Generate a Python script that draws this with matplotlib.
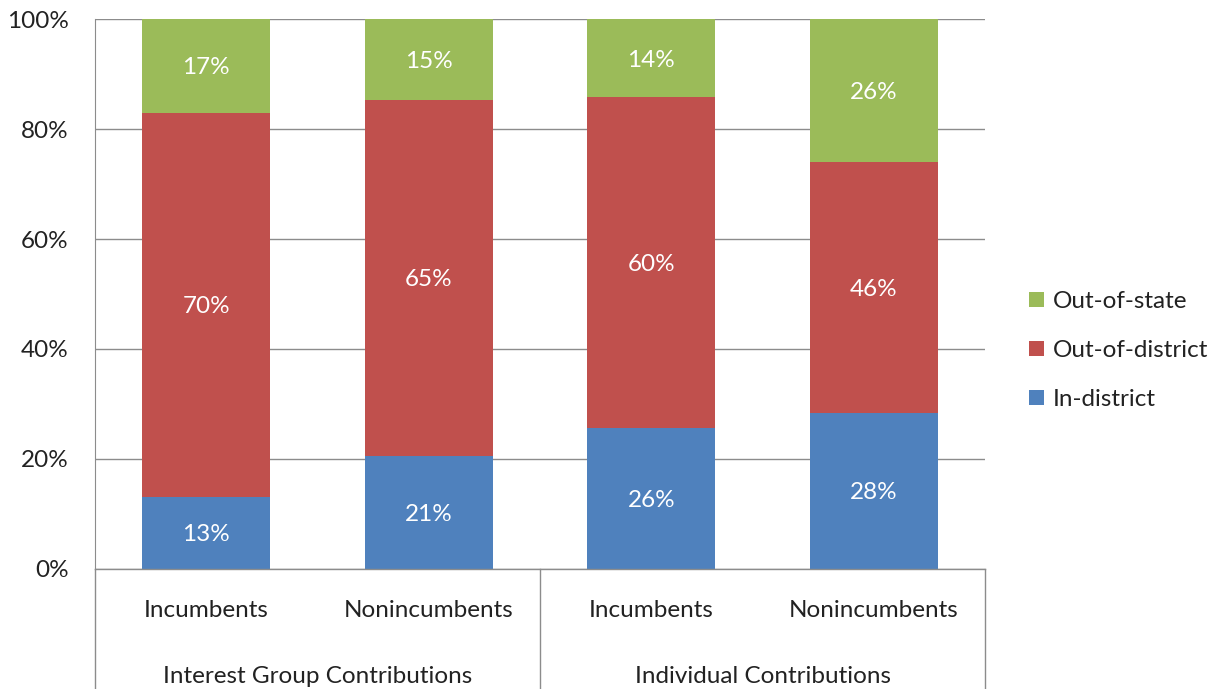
import matplotlib
matplotlib.use("Agg")
import matplotlib.pyplot as plt
import numpy as np

plt.rcParams['font.family'] = ['Lato', 'DejaVu Sans']

groups = ["Interest Group Contributions", "Individual Contributions"]
candidates = ["Incumbents", "Nonincumbents", "Incumbents", "Nonincumbents"]
series_names = ["In-district", "Out-of-district", "Out-of-state"]
in_district = [13.1, 20.6, 25.6, 28.4]
out_of_district = [69.9, 64.7, 60.2, 45.6]
out_of_state = [17.0, 14.7, 14.2, 26.0]
colors = ["#4F81BD", "#C0504D", "#9BBB59"]
y_ticks = [0, 20, 40, 60, 80, 100]

FS = 17.5
fig = plt.figure(figsize=(12.11, 6.89), dpi=100)
ax = fig.add_axes([0.0784, 0.1742, 0.7350, 0.7982])

x = np.arange(len(candidates)) + 0.5
bottom = np.zeros(len(candidates))
handles = []
for vals, name, col in zip([in_district, out_of_district, out_of_state], series_names, colors):
    vals = np.array(vals)
    bars = ax.bar(x, vals, width=0.575, bottom=bottom, color=col, label=name, zorder=3)
    handles.append(bars)
    for xi, b, v in zip(x, bottom, vals):
        ax.text(xi, b + v / 2, f"{round(v)}%", ha="center", va="center_baseline",
                color="white", fontsize=FS, zorder=4)
    bottom += vals

ax.set_xlim(0, 4)
ax.set_ylim(0, 100)
ax.set_yticks(y_ticks)
ax.set_yticklabels([f"{t}%" for t in y_ticks], fontsize=FS, color="#222222")
ax.tick_params(axis="y", length=0, pad=19)
ax.set_xticks([])
ax.grid(axis="y", color="#8c8c8c", linewidth=1, zorder=0)
for s in ["top", "right", "bottom"]:
    ax.spines[s].set_visible(False)
ax.spines["left"].set_color("#8c8c8c")
ax.spines["left"].set_zorder(5)

# two-level category axis
ax.plot([0, 1], [0, 0], transform=ax.transAxes, color="#8c8c8c", lw=1, clip_on=False, zorder=5)
for xv in [0, 0.5, 1.0]:
    ax.plot([xv, xv], [0, -0.4], transform=ax.transAxes, color="#8c8c8c", lw=1, clip_on=False)
for xi, lab in zip(x, candidates):
    ax.text(xi, -7.5, lab, ha="center", va="center", fontsize=FS, color="#222222", clip_on=False)
for gi, g in enumerate(groups):
    ax.text(1 + 2 * gi, -19.6, g, ha="center", va="center", fontsize=FS, color="#222222", clip_on=False)

leg = fig.legend(handles[::-1], series_names[::-1], loc="center left",
                 bbox_to_anchor=(0.832, 0.491), frameon=False, fontsize=FS,
                 handlelength=0.6, handleheight=0.6, handletextpad=0.35,
                 labelspacing=1.15)
for t in leg.get_texts():
    t.set_color("#222222")

fig.savefig("out.png", dpi=100)
